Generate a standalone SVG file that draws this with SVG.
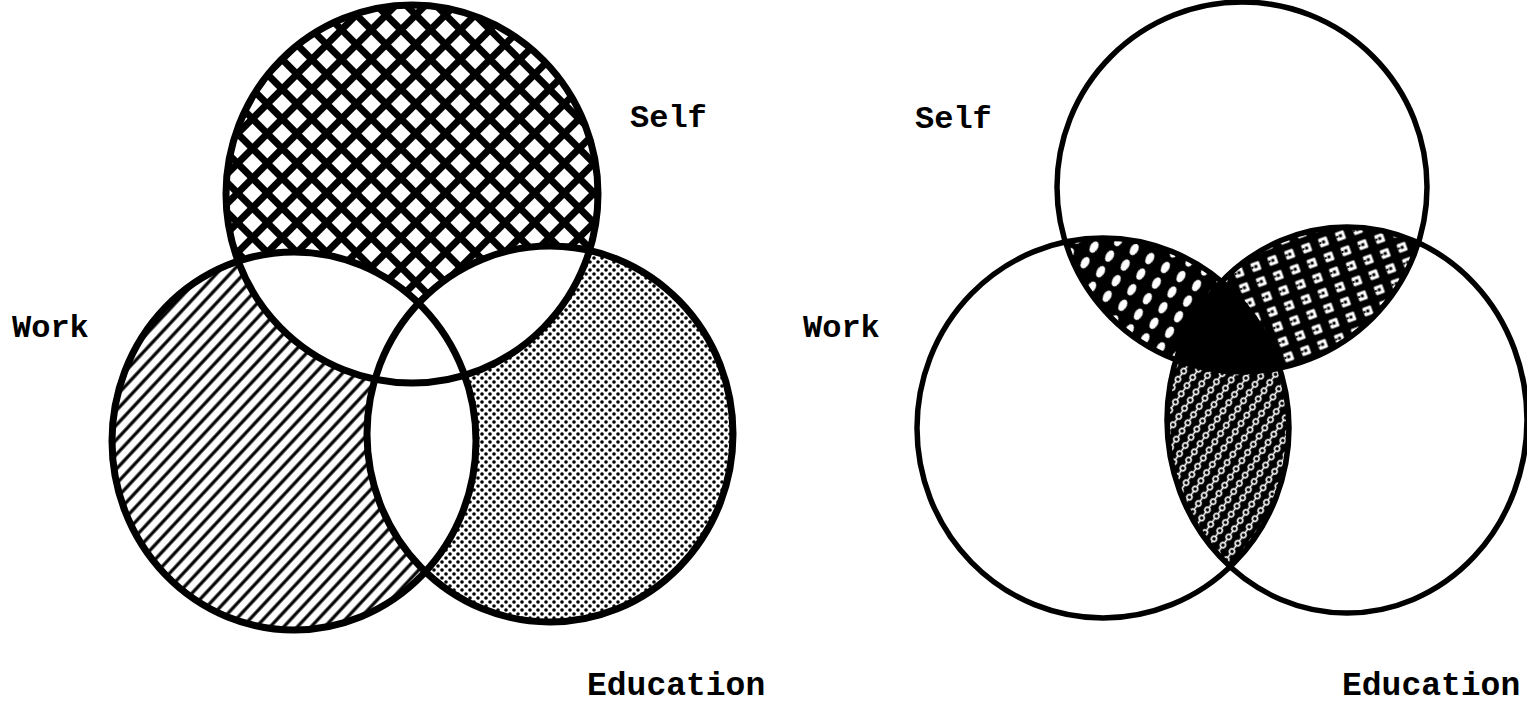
<svg xmlns="http://www.w3.org/2000/svg" width="1527" height="716" viewBox="0 0 1527 716">
<style>
.lbl{font-family:"Liberation Mono","DejaVu Sans Mono",monospace;font-weight:bold;font-size:32px;fill:#000}
.outL{fill:none;stroke:#000;stroke-width:7}
.outR{fill:none;stroke:#000;stroke-width:5.5}
</style>
<defs>
<pattern id="xhatch" width="21" height="21" patternUnits="userSpaceOnUse" patternTransform="rotate(45)">
<rect width="21" height="21" fill="#fff"/>
<path d="M0 10.5H21M10.5 0V21" stroke="#000" stroke-width="7"/>
</pattern>
<pattern id="hatch" width="10" height="10" patternUnits="userSpaceOnUse" patternTransform="rotate(43)">
<rect width="10" height="10" fill="#fff"/>
<path d="M5 0V10" stroke="#000" stroke-width="3.2"/>
</pattern>
<pattern id="dots" width="8" height="8" patternUnits="userSpaceOnUse">
<rect width="8" height="8" fill="#fff"/>
<circle cx="2" cy="2" r="1.8" fill="#000"/>
<circle cx="6" cy="6" r="1.8" fill="#000"/>
</pattern>
<pattern id="blobs" width="18" height="18" patternUnits="userSpaceOnUse" patternTransform="rotate(30)">
<rect width="18" height="18" fill="#000"/>
<ellipse cx="9" cy="9" rx="3.8" ry="6.2" fill="#fff"/>
</pattern>
<pattern id="squares" width="18" height="16" patternUnits="userSpaceOnUse" patternTransform="rotate(-20)">
<rect width="18" height="16" fill="#000"/>
<rect x="4.5" y="3.5" width="9" height="9" rx="1" fill="#fff"/>
<rect x="7.5" y="6.5" width="3" height="3" fill="#000"/>
<rect x="4.5" y="7" width="2" height="2" fill="#000"/>
</pattern>
<pattern id="chain" width="11" height="10" patternUnits="userSpaceOnUse" patternTransform="rotate(35)">
<rect width="11" height="10" fill="#000"/>
<path d="M5.5 0V10" stroke="#fff" stroke-width="1.6"/>
<circle cx="5.5" cy="5" r="2.6" fill="#000" stroke="#fff" stroke-width="1.5"/>
</pattern>
<clipPath id="cLWork"><ellipse cx="294" cy="441" rx="182" ry="189"/></clipPath>
<clipPath id="cLEdu"><ellipse cx="550" cy="434" rx="183" ry="188"/></clipPath>
<clipPath id="cRWork"><ellipse cx="1103" cy="428" rx="186" ry="190"/></clipPath>
<clipPath id="cREdu"><ellipse cx="1347" cy="420" rx="180" ry="193"/></clipPath>
</defs>
<rect width="1527" height="716" fill="#fff"/>

<!-- Left diagram -->
<g id="left-fills">
<ellipse id="L-self-fill" cx="412" cy="194" rx="186" ry="189" fill="url(#xhatch)"/>
<ellipse id="L-work-fill" cx="294" cy="441" rx="182" ry="189" fill="url(#hatch)"/>
<ellipse id="L-edu-fill" cx="550" cy="434" rx="183" ry="188" fill="url(#dots)"/>
<ellipse cx="412" cy="194" rx="186" ry="189" fill="#fff" clip-path="url(#cLWork)"/>
<ellipse cx="412" cy="194" rx="186" ry="189" fill="#fff" clip-path="url(#cLEdu)"/>
<ellipse cx="294" cy="441" rx="182" ry="189" fill="#fff" clip-path="url(#cLEdu)"/>
</g>
<g id="L-self"><ellipse class="outL" cx="412" cy="194" rx="186" ry="189"/><text class="lbl" x="630" y="127">Self</text></g>
<g id="L-work"><ellipse class="outL" cx="294" cy="441" rx="182" ry="189"/><text class="lbl" x="12" y="337">Work</text></g>
<g id="L-edu"><ellipse class="outL" cx="550" cy="434" rx="183" ry="188"/><text class="lbl" x="587" y="695" style="font-size:33px">Education</text></g>

<!-- Right diagram -->
<g id="right-fills">
<ellipse cx="1242" cy="187" rx="185" ry="185" fill="url(#blobs)" clip-path="url(#cRWork)"/>
<ellipse cx="1242" cy="187" rx="185" ry="185" fill="url(#squares)" clip-path="url(#cREdu)"/>
<ellipse cx="1103" cy="428" rx="186" ry="190" fill="url(#chain)" clip-path="url(#cREdu)"/>
<g clip-path="url(#cRWork)"><g clip-path="url(#cREdu)"><ellipse cx="1242" cy="187" rx="185" ry="185" fill="#000"/></g></g>
</g>
<g id="R-self"><ellipse class="outR" cx="1242" cy="187" rx="185" ry="185"/><text class="lbl" x="915" y="128">Self</text></g>
<g id="R-work"><ellipse class="outR" cx="1103" cy="428" rx="186" ry="190"/><text class="lbl" x="803" y="337">Work</text></g>
<g id="R-edu"><ellipse class="outR" cx="1347" cy="420" rx="180" ry="193"/><text class="lbl" x="1342" y="695" style="font-size:33px">Education</text></g>

<g id="connectors"/>
</svg>
